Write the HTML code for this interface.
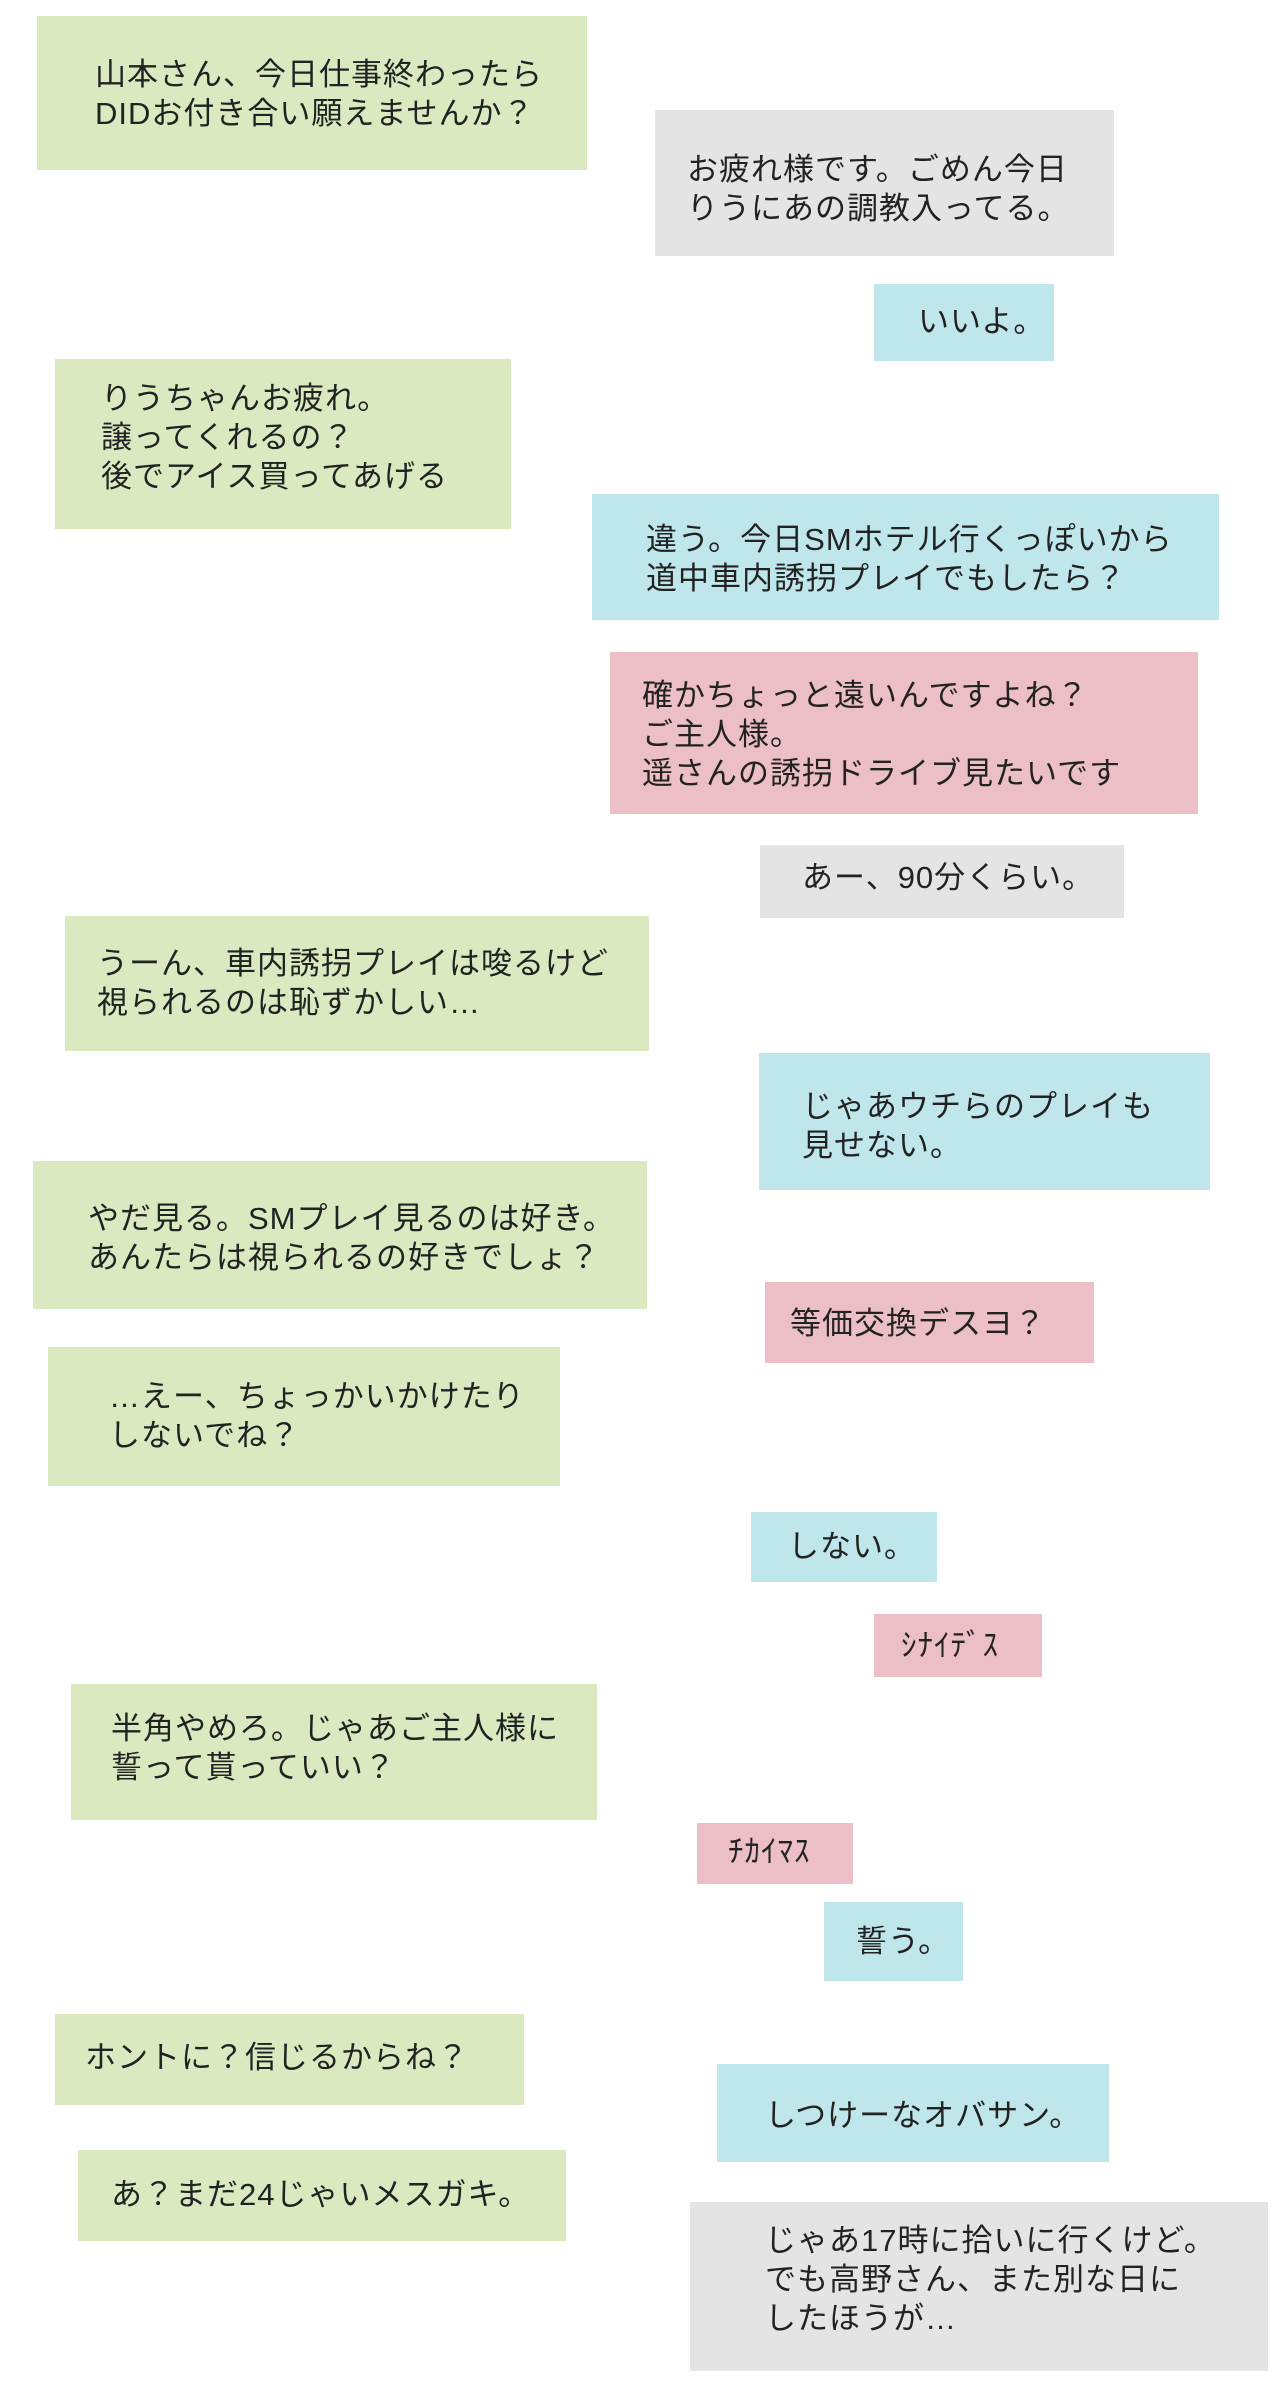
<!DOCTYPE html>
<html><head><meta charset="utf-8"><style>
body{margin:0;width:1276px;height:2393px;background:#fff;position:relative;overflow:hidden;font-family:"Liberation Sans","Noto Sans CJK JP",sans-serif;color:#222}
.b{position:absolute}
.t{position:absolute;font-size:31px;line-height:39px;letter-spacing:1px;white-space:nowrap}
.g{background:#dae9c0}.y{background:#e4e4e4}.c{background:#bfe6ea}.p{background:#ecbec6}
</style></head><body>
<div class="b g" style="left:37px;top:16px;width:550px;height:154px"></div>
<div class="t" style="left:95px;top:55px">山本さん、今日仕事終わったら<br>DIDお付き合い願えませんか？</div>

<div class="b y" style="left:655px;top:110px;width:459px;height:146px"></div>
<div class="t" style="left:687px;top:150px">お疲れ様です。ごめん今日<br>りうにあの調教入ってる。</div>

<div class="b c" style="left:874px;top:284px;width:180px;height:77px"></div>
<div class="t" style="left:918px;top:302px">いいよ。</div>

<div class="b g" style="left:55px;top:359px;width:456px;height:170px"></div>
<div class="t" style="left:101px;top:379px">りうちゃんお疲れ。<br>譲ってくれるの？<br>後でアイス買ってあげる</div>

<div class="b c" style="left:592px;top:494px;width:627px;height:126px"></div>
<div class="t" style="left:646px;top:520px">違う。今日SMホテル行くっぽいから<br>道中車内誘拐プレイでもしたら？</div>

<div class="b p" style="left:610px;top:652px;width:588px;height:162px"></div>
<div class="t" style="left:642px;top:676px">確かちょっと遠いんですよね？<br>ご主人様。<br>遥さんの誘拐ドライブ見たいです</div>

<div class="b y" style="left:760px;top:845px;width:364px;height:73px"></div>
<div class="t" style="left:802px;top:858px">あー、90分くらい。</div>

<div class="b g" style="left:65px;top:916px;width:584px;height:135px"></div>
<div class="t" style="left:97px;top:944px">うーん、車内誘拐プレイは唆るけど<br>視られるのは恥ずかしい…</div>

<div class="b c" style="left:759px;top:1053px;width:451px;height:137px"></div>
<div class="t" style="left:802px;top:1087px">じゃあウチらのプレイも<br>見せない。</div>

<div class="b g" style="left:33px;top:1161px;width:614px;height:148px"></div>
<div class="t" style="left:88px;top:1199px">やだ見る。SMプレイ見るのは好き。<br>あんたらは視られるの好きでしょ？</div>

<div class="b p" style="left:765px;top:1282px;width:329px;height:81px"></div>
<div class="t" style="left:790px;top:1304px">等価交換デスヨ？</div>

<div class="b g" style="left:48px;top:1347px;width:512px;height:139px"></div>
<div class="t" style="left:109px;top:1377px">…えー、ちょっかいかけたり<br>しないでね？</div>

<div class="b c" style="left:751px;top:1512px;width:186px;height:70px"></div>
<div class="t" style="left:788px;top:1527px">しない。</div>

<div class="b p" style="left:874px;top:1614px;width:168px;height:63px"></div>
<div class="t" style="left:901px;top:1626px">ｼﾅｲﾃﾞｽ</div>

<div class="b g" style="left:71px;top:1684px;width:526px;height:136px"></div>
<div class="t" style="left:111px;top:1709px">半角やめろ。じゃあご主人様に<br>誓って貰っていい？</div>

<div class="b p" style="left:697px;top:1823px;width:156px;height:61px"></div>
<div class="t" style="left:728px;top:1832px">ﾁｶｲﾏｽ</div>

<div class="b c" style="left:824px;top:1902px;width:139px;height:79px"></div>
<div class="t" style="left:856px;top:1922px">誓う。</div>

<div class="b g" style="left:55px;top:2014px;width:469px;height:91px"></div>
<div class="t" style="left:85px;top:2038px">ホントに？信じるからね？</div>

<div class="b c" style="left:717px;top:2064px;width:392px;height:98px"></div>
<div class="t" style="left:765px;top:2096px">しつけーなオバサン。</div>

<div class="b g" style="left:78px;top:2150px;width:488px;height:91px"></div>
<div class="t" style="left:111px;top:2175px">あ？まだ24じゃいメスガキ。</div>

<div class="b y" style="left:690px;top:2202px;width:578px;height:169px"></div>
<div class="t" style="left:765px;top:2221px">じゃあ17時に拾いに行くけど。<br>でも高野さん、また別な日に<br>したほうが…</div>
</body></html>
